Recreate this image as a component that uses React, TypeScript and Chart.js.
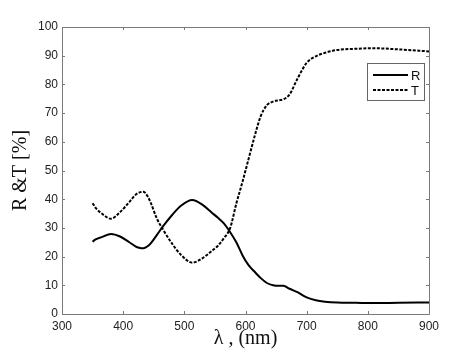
import React, { useEffect, useRef } from "react";
import { Chart, registerables } from "chart.js";

Chart.register(...registerables);

const wavelengths = [350, 355, 365, 380, 395, 410, 420, 426, 433, 440, 445, 455, 465, 480, 495, 513, 530, 545, 555, 565, 575, 585, 595, 605, 615, 625, 635, 645, 655, 662, 672, 685, 700, 715, 730, 750, 780, 810, 850, 900];
const seriesR = [25.2, 26, 26.8, 27.9, 27, 25, 23.6, 23.1, 22.9, 23.6, 24.6, 27.5, 30.5, 34.5, 37.8, 39.7, 38, 35.3, 33.5, 31.5, 28.5, 25, 20.5, 17, 14.7, 12.5, 10.8, 10, 9.8, 9.8, 8.8, 7.6, 5.8, 4.8, 4.3, 4.0, 3.9, 3.8, 3.9, 4.0];
const seriesT = [38.6, 37, 35, 33.2, 35.5, 39, 41.5, 42.3, 42.6, 41, 38.8, 33.3, 29.5, 24.5, 20.5, 17.9, 19.5, 22, 23.8, 26.5, 30, 38.5, 46, 54, 62, 69, 72.8, 74, 74.5, 74.8, 76.5, 82, 87.5, 89.8, 91, 92, 92.4, 92.6, 92.2, 91.5];
const xTicks = [300, 400, 500, 600, 700, 800, 900];
const yTicks = [0, 10, 20, 30, 40, 50, 60, 70, 80, 90, 100];
const legendLabels = ["R", "T"];
const xTitle = "\u03bb , (nm)";
const yTitle = "R &T [%]";

const frameColor = "#7a7a7a";
const tickFont = { family: "'Liberation Sans', Arial, sans-serif", size: 12 };
const titleFont = { family: "'Liberation Serif', 'Times New Roman', serif", size: 20 };

const framePlugin = {
  id: "frameTicks",
  afterDraw(chart: any) {
    const { ctx, chartArea } = chart;
    const { left, right, top, bottom } = chartArea;
    const xs = chart.scales.x;
    const ys = chart.scales.y;
    ctx.save();
    ctx.strokeStyle = frameColor;
    ctx.lineWidth = 1;
    ctx.beginPath();
    ctx.rect(Math.round(left) + 0.5, Math.round(top) + 0.5, Math.round(right - left), Math.round(bottom - top));
    ctx.stroke();
    const tl = 3;
    ctx.beginPath();
    xTicks.forEach((v) => {
      const px = Math.round(xs.getPixelForValue(v)) + 0.5;
      ctx.moveTo(px, bottom);
      ctx.lineTo(px, bottom - tl);
      ctx.moveTo(px, top);
      ctx.lineTo(px, top + tl);
    });
    yTicks.forEach((v) => {
      const py = Math.round(ys.getPixelForValue(v)) + 0.5;
      ctx.moveTo(left, py);
      ctx.lineTo(left + tl, py);
      ctx.moveTo(right, py);
      ctx.lineTo(right - tl, py);
    });
    ctx.stroke();

    // legend
    const bx = 367.5, by = 63.5, bw = 57, bh = 37;
    ctx.fillStyle = "#ffffff";
    ctx.fillRect(bx, by, bw, bh);
    ctx.strokeStyle = "#666666";
    ctx.lineWidth = 1;
    ctx.strokeRect(bx, by, bw, bh);
    const rows = [75, 90];
    chart.data.datasets.forEach((ds: any, i: number) => {
      ctx.strokeStyle = "#000";
      ctx.lineWidth = 2;
      ctx.setLineDash(ds.borderDash || []);
      ctx.beginPath();
      ctx.moveTo(373, rows[i]);
      ctx.lineTo(408, rows[i]);
      ctx.stroke();
      ctx.setLineDash([]);
      ctx.fillStyle = "#111";
      ctx.font = "13px 'Liberation Sans', Arial, sans-serif";
      ctx.textBaseline = "middle";
      ctx.textAlign = "left";
      ctx.fillText(legendLabels[i], 411, rows[i] + 1);
    });
    ctx.restore();
  },
};

export default function App() {
  const ref = useRef<HTMLCanvasElement | null>(null);
  useEffect(() => {
    if (!ref.current) return;
    const chart = new Chart(ref.current, {
      type: "line",
      data: {
        datasets: [
          {
            label: legendLabels[0],
            data: wavelengths.map((x, i) => ({ x, y: seriesR[i] })),
            borderColor: "#000",
            borderWidth: 2,
            pointRadius: 0,
            cubicInterpolationMode: "monotone",
            fill: false,
          },
          {
            label: legendLabels[1],
            data: wavelengths.map((x, i) => ({ x, y: seriesT[i] })),
            borderColor: "#000",
            borderWidth: 2,
            borderDash: [3, 1.5],
            pointRadius: 0,
            cubicInterpolationMode: "monotone",
            fill: false,
          },
        ],
      },
      options: {
        responsive: false,
        animation: false,
        layout: { padding: { left: 0, top: 27, right: 45, bottom: 0 } },
        plugins: { legend: { display: false }, tooltip: { enabled: false } },
        scales: {
          x: {
            type: "linear",
            min: 300,
            max: 900,
            afterBuildTicks: (s: any) => {
              s.ticks = xTicks.map((v) => ({ value: v }));
            },
            afterFit: (s: any) => {
              s.height = 41;
            },
            ticks: { color: "#222", font: tickFont, padding: 5, maxRotation: 0, autoSkip: false },
            grid: { display: false, drawTicks: false },
            border: { display: false },
            title: { display: true, text: xTitle, font: titleFont, color: "#111", padding: { top: 0, bottom: 4 } },
          },
          y: {
            type: "linear",
            min: 0,
            max: 100,
            afterBuildTicks: (s: any) => {
              s.ticks = yTicks.map((v) => ({ value: v }));
            },
            afterFit: (s: any) => {
              s.width = 62;
            },
            ticks: { color: "#222", font: tickFont, padding: 4, autoSkip: false },
            grid: { display: false, drawTicks: false },
            border: { display: false },
            title: { display: true, text: yTitle, font: titleFont, color: "#111", padding: { top: 9, bottom: 0 } },
          },
        },
      },
      plugins: [framePlugin],
    } as any);
    return () => chart.destroy();
  }, []);
  return (
    <div style={{ position: "absolute", left: 0, top: 0, width: 474, height: 355, background: "#fff" }}>
      <canvas ref={ref} width={474} height={355} />
    </div>
  );
}
